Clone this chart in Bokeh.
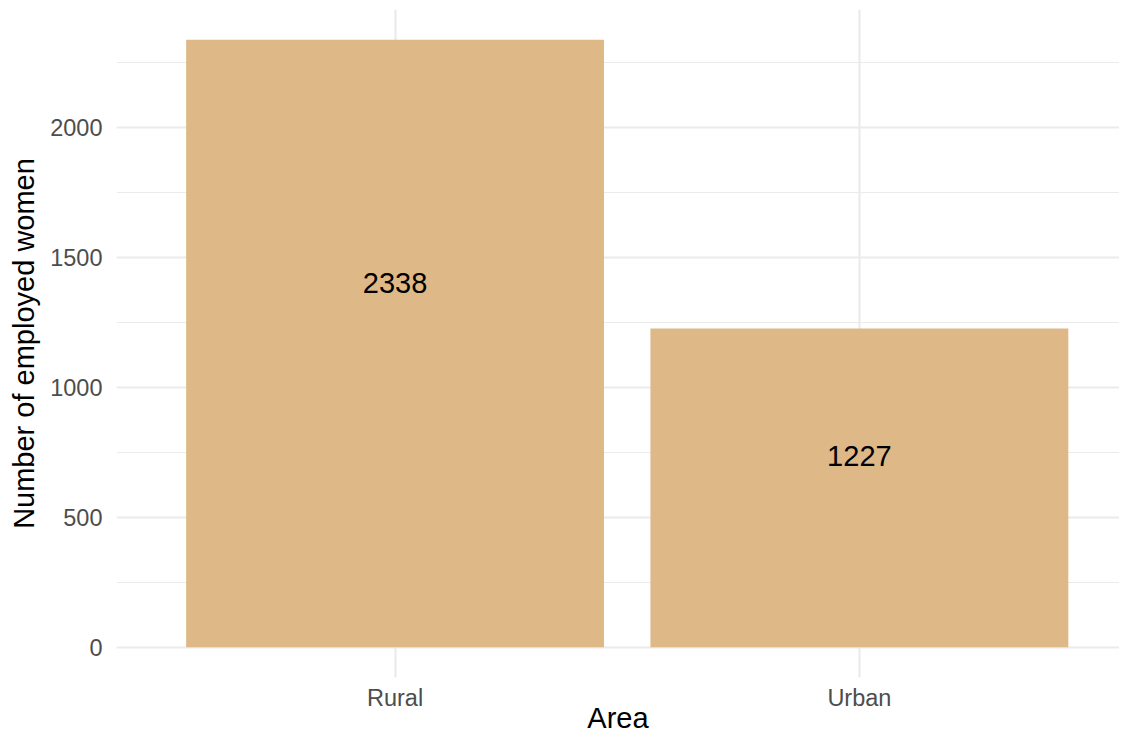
from bokeh.plotting import figure
from bokeh.models import Range1d, FixedTicker, ColumnDataSource
from bokeh.core.properties import value
from bokeh.embed import file_html
from bokeh.resources import INLINE

# Data
areas = ["Rural", "Urban"]
counts = [2338, 1227]
y_ticks = [0, 500, 1000, 1500, 2000]
y_minor = [250, 750, 1250, 1750, 2250]

xpos = [i + 1 for i in range(len(areas))]
label_y = [c * 0.6 for c in counts]
src = ColumnDataSource(dict(x=xpos, top=counts, ly=label_y, lab=[str(c) for c in counts]))

ymax = max(counts)
pad = ymax * 0.05
y_start, y_end = -pad, ymax + pad

FONT = "Liberation Sans"

W, H = 1119, 736
LEFT, TOP, FRAME_H = 116, 9, 668
frame_w = W - LEFT
unit_px = 464.3
x_start = 0.4
x_end = x_start + frame_w / unit_px

p = figure(width=W, height=H, output_backend="svg", toolbar_location=None,
           x_range=Range1d(x_start, x_end), y_range=Range1d(y_start, y_end),
           min_border_left=LEFT, min_border_right=0, min_border_top=TOP,
           min_border_bottom=H - TOP - FRAME_H)
p.outline_line_color = None
p.background_fill_color = "white"
p.border_fill_color = "white"

p.vbar(x="x", top="top", bottom=0, width=0.9, source=src, fill_color="#DEB887", line_color=None)
p.text(x="x", y="ly", text="lab", source=src, text_align="center", text_baseline="middle",
       text_font=value(FONT), text_font_size="29px", text_color="black")

# Axes
p.xaxis.ticker = FixedTicker(ticks=xpos)
p.xaxis.major_label_overrides = {x: a for x, a in zip(xpos, areas)}
p.yaxis.ticker = FixedTicker(ticks=y_ticks, minor_ticks=y_minor)

for ax in (p.xaxis[0], p.yaxis[0]):
    ax.axis_line_color = None
    ax.major_tick_line_color = None
    ax.minor_tick_line_color = None
    ax.major_tick_out = 0
    ax.major_tick_in = 0
    ax.minor_tick_out = 0
    ax.minor_tick_in = 0
    ax.major_label_text_font = FONT
    ax.major_label_text_font_size = "23.5px"
    ax.major_label_text_color = "#4D4D4D"
    ax.axis_label_text_font = FONT
    ax.axis_label_text_font_size = "29px"
    ax.axis_label_text_font_style = "normal"
    ax.axis_label_text_color = "black"

p.xaxis.axis_label = "Area"
p.yaxis.axis_label = "Number of employed women"
p.xaxis.major_label_standoff = 7
p.xaxis.axis_label_standoff = -12
p.yaxis.major_label_standoff = 14
p.yaxis.axis_label_standoff = 7

# Grid
p.xgrid.grid_line_color = "#EBEBEB"
p.xgrid.grid_line_width = 2.2
p.ygrid.grid_line_color = "#EBEBEB"
p.ygrid.grid_line_width = 2.2
p.ygrid.minor_grid_line_color = "#EBEBEB"
p.ygrid.minor_grid_line_width = 1.1

open("out.html", "w").write(file_html(p, INLINE))
